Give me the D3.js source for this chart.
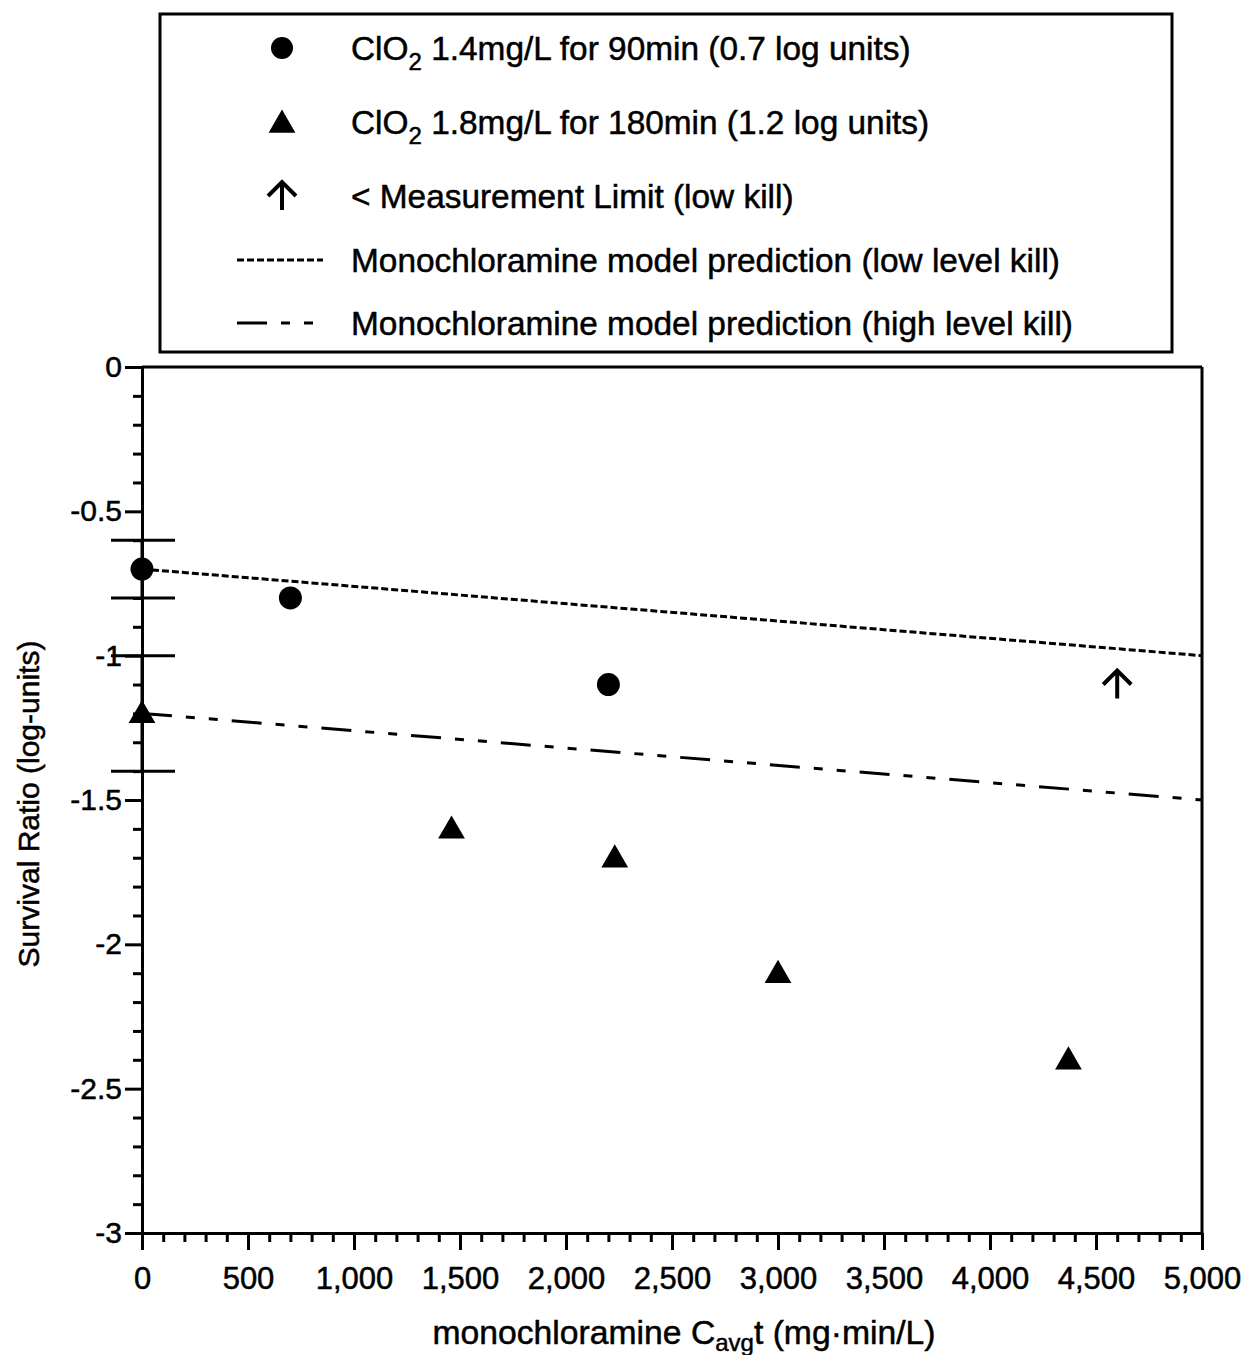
<!DOCTYPE html>
<html>
<head>
<meta charset="utf-8">
<script src="https://cdn.jsdelivr.net/npm/d3@7"></script>
<style>
  html, body { margin: 0; padding: 0; background: #fff; }
  svg text { font-family: "Liberation Sans", Arial, sans-serif; fill: #000; stroke: #000; stroke-width: 0.5px; }
</style>
</head>
<body>
<svg id="chart" width="1247" height="1355"></svg>
<script>
// ---- data ----
const circleX = [0, 700, 2200];
const circleY = [-0.7, -0.8, -1.1];
const triangleX = [0, 1460, 2230, 3000, 4370];
const triangleY = [-1.2, -1.6, -1.7, -2.1, -2.4];
const arrowX = [4600];
const arrowY = [-1.1];
// error bars at x = 0
const errX = [0, 0];
const errLow = [-0.8, -1.4];
const errHigh = [-0.6, -1.0];
// model predictions
const lowKillX = [0, 5000];
const lowKillY = [-0.7, -1.0];
const highKillX = [0, 5000];
const highKillY = [-1.2, -1.5];
const xTicks = [0, 500, 1000, 1500, 2000, 2500, 3000, 3500, 4000, 4500, 5000];
const yTicks = [0, -0.5, -1, -1.5, -2, -2.5, -3];
const yTickLabels = ["0", "-0.5", "-1", "-1.5", "-2", "-2.5", "-3"];
const legendLabels = [
  ["ClO", "2", " 1.4mg/L for 90min (0.7 log units)"],
  ["ClO", "2", " 1.8mg/L for 180min (1.2 log units)"],
  ["< Measurement Limit (low kill)", "", ""],
  ["Monochloramine model prediction (low level kill)", "", ""],
  ["Monochloramine model prediction (high level kill)", "", ""]
];

// ---- layout ----
const svg = d3.select("#chart");
const L = 142, R = 1202, T = 367, B = 1233;
const x = d3.scaleLinear().domain([0, 5000]).range([L, R]);
const y = d3.scaleLinear().domain([-3, 0]).range([B, T]);
const lowDash = "7,3";
const highDash = "30,14,9,14,9,14";

// frame top & right
svg.append("line").attr("x1", L).attr("x2", R).attr("y1", T).attr("y2", T)
  .attr("stroke", "#000").attr("stroke-width", 3);
svg.append("line").attr("x1", R).attr("x2", R).attr("y1", T).attr("y2", B)
  .attr("stroke", "#000").attr("stroke-width", 3);

// minor ticks
const xMinor = d3.range(0, 5001, 100).filter(v => v % 500 !== 0);
const yMinor = d3.range(0, 31, 1).map(v => -v / 10).filter(v => Math.abs(Math.round(v * 10)) % 5 !== 0);

const gx = svg.append("g").attr("transform", `translate(0,${B})`);
gx.append("g").call(d3.axisBottom(x).tickValues(xMinor).tickSize(9).tickFormat(""))
  .call(g => g.select(".domain").remove());
gx.append("g").call(d3.axisBottom(x).tickValues(xTicks).tickSize(17).tickPadding(17)
  .tickFormat(d3.format(",")).tickSizeOuter(0));
gx.selectAll("line").attr("stroke-width", 3);
gx.selectAll(".domain").attr("stroke-width", 3);
gx.selectAll("text").attr("font-size", 31).attr("font-family", "Liberation Sans, Arial, sans-serif");

const gy = svg.append("g").attr("transform", `translate(${L},0)`);
gy.append("g").call(d3.axisLeft(y).tickValues(yMinor).tickSize(9).tickFormat(""))
  .call(g => g.select(".domain").remove());
gy.append("g").call(d3.axisLeft(y).tickValues(yTicks).tickSize(17).tickPadding(3)
  .tickFormat((d, i) => yTickLabels[i]).tickSizeOuter(0));
gy.selectAll("line").attr("stroke-width", 3);
gy.selectAll(".domain").attr("stroke-width", 3);
gy.selectAll("text").attr("font-size", 30).attr("font-family", "Liberation Sans, Arial, sans-serif");

// axis titles
const xt = svg.append("text").attr("x", (L + R) / 2 + 12).attr("y", 1344)
  .attr("text-anchor", "middle").attr("font-size", 33.7);
xt.append("tspan").text("monochloramine C");
xt.append("tspan").text("avg").attr("font-size", 24).attr("dy", 7);
xt.append("tspan").text("t (mg·min/L)").attr("dy", -7);

svg.append("text").attr("transform", `translate(39,${(T + B) / 2 + 4}) rotate(-90)`)
  .attr("text-anchor", "middle").attr("font-size", 30)
  .text("Survival Ratio (log-units)");

// model lines
const line = d3.line().x(d => x(d[0])).y(d => y(d[1]));
svg.append("path").datum(lowKillX.map((v, i) => [v, lowKillY[i]]))
  .attr("d", line).attr("fill", "none").attr("stroke", "#000")
  .attr("stroke-width", 3).attr("stroke-dasharray", lowDash);
svg.append("path").datum(highKillX.map((v, i) => [v, highKillY[i]]))
  .attr("d", line).attr("fill", "none").attr("stroke", "#000")
  .attr("stroke-width", 3).attr("stroke-dasharray", highDash);

// error bars
errX.forEach((v, i) => {
  [errLow[i], errHigh[i]].forEach(e => {
    svg.append("line").attr("x1", x(v) - 31).attr("x2", x(v) + 33)
      .attr("y1", y(e)).attr("y2", y(e)).attr("stroke", "#000").attr("stroke-width", 3);
  });
  svg.append("line").attr("x1", x(v)).attr("x2", x(v))
    .attr("y1", y(errLow[i])).attr("y2", y(errHigh[i])).attr("stroke", "#000").attr("stroke-width", 3);
});

// markers
const tri = d3.symbol().type(d3.symbolTriangle).size(310);
svg.selectAll("circle.pt").data(circleX.map((v, i) => [v, circleY[i]])).enter()
  .append("circle").attr("class", "pt").attr("cx", d => x(d[0])).attr("cy", d => y(d[1]))
  .attr("r", 11.5).attr("fill", "#000");
svg.selectAll("path.tri").data(triangleX.map((v, i) => [v, triangleY[i]])).enter()
  .append("path").attr("class", "tri").attr("d", tri)
  .attr("transform", d => `translate(${x(d[0])},${y(d[1]) + 2})`).attr("fill", "#000");

function arrow(g, cx, cy) {
  g.append("path")
    .attr("d", `M${cx},${cy + 14} L${cx},${cy - 13} M${cx - 14},${cy} L${cx},${cy - 14} L${cx + 14},${cy}`)
    .attr("fill", "none").attr("stroke", "#000").attr("stroke-width", 4);
}
arrowX.forEach((v, i) => arrow(svg, x(v), y(arrowY[i])));

// legend
svg.append("rect").attr("x", 160).attr("y", 14).attr("width", 1012).attr("height", 338)
  .attr("fill", "#fff").attr("stroke", "#000").attr("stroke-width", 3);
const rowY = [48, 122, 196, 260, 323];
legendLabels.forEach((lab, i) => {
  const t = svg.append("text").attr("x", 351).attr("y", rowY[i] + 12).attr("font-size", 33.4);
  t.append("tspan").text(lab[0]);
  if (lab[1]) {
    t.append("tspan").text(lab[1]).attr("font-size", 24).attr("dy", 10);
    t.append("tspan").text(lab[2]).attr("dy", -10);
  }
});
svg.append("circle").attr("cx", 282).attr("cy", rowY[0]).attr("r", 11).attr("fill", "#000");
svg.append("path").attr("d", tri).attr("transform", `translate(282,${rowY[1] + 3})`).attr("fill", "#000");
arrow(svg, 282, rowY[2]);
svg.append("line").attr("x1", 237).attr("x2", 323).attr("y1", rowY[3]).attr("y2", rowY[3])
  .attr("stroke", "#000").attr("stroke-width", 3).attr("stroke-dasharray", lowDash);
svg.append("line").attr("x1", 237).attr("x2", 313).attr("y1", rowY[4]).attr("y2", rowY[4])
  .attr("stroke", "#000").attr("stroke-width", 3).attr("stroke-dasharray", highDash);
</script>
</body>
</html>
